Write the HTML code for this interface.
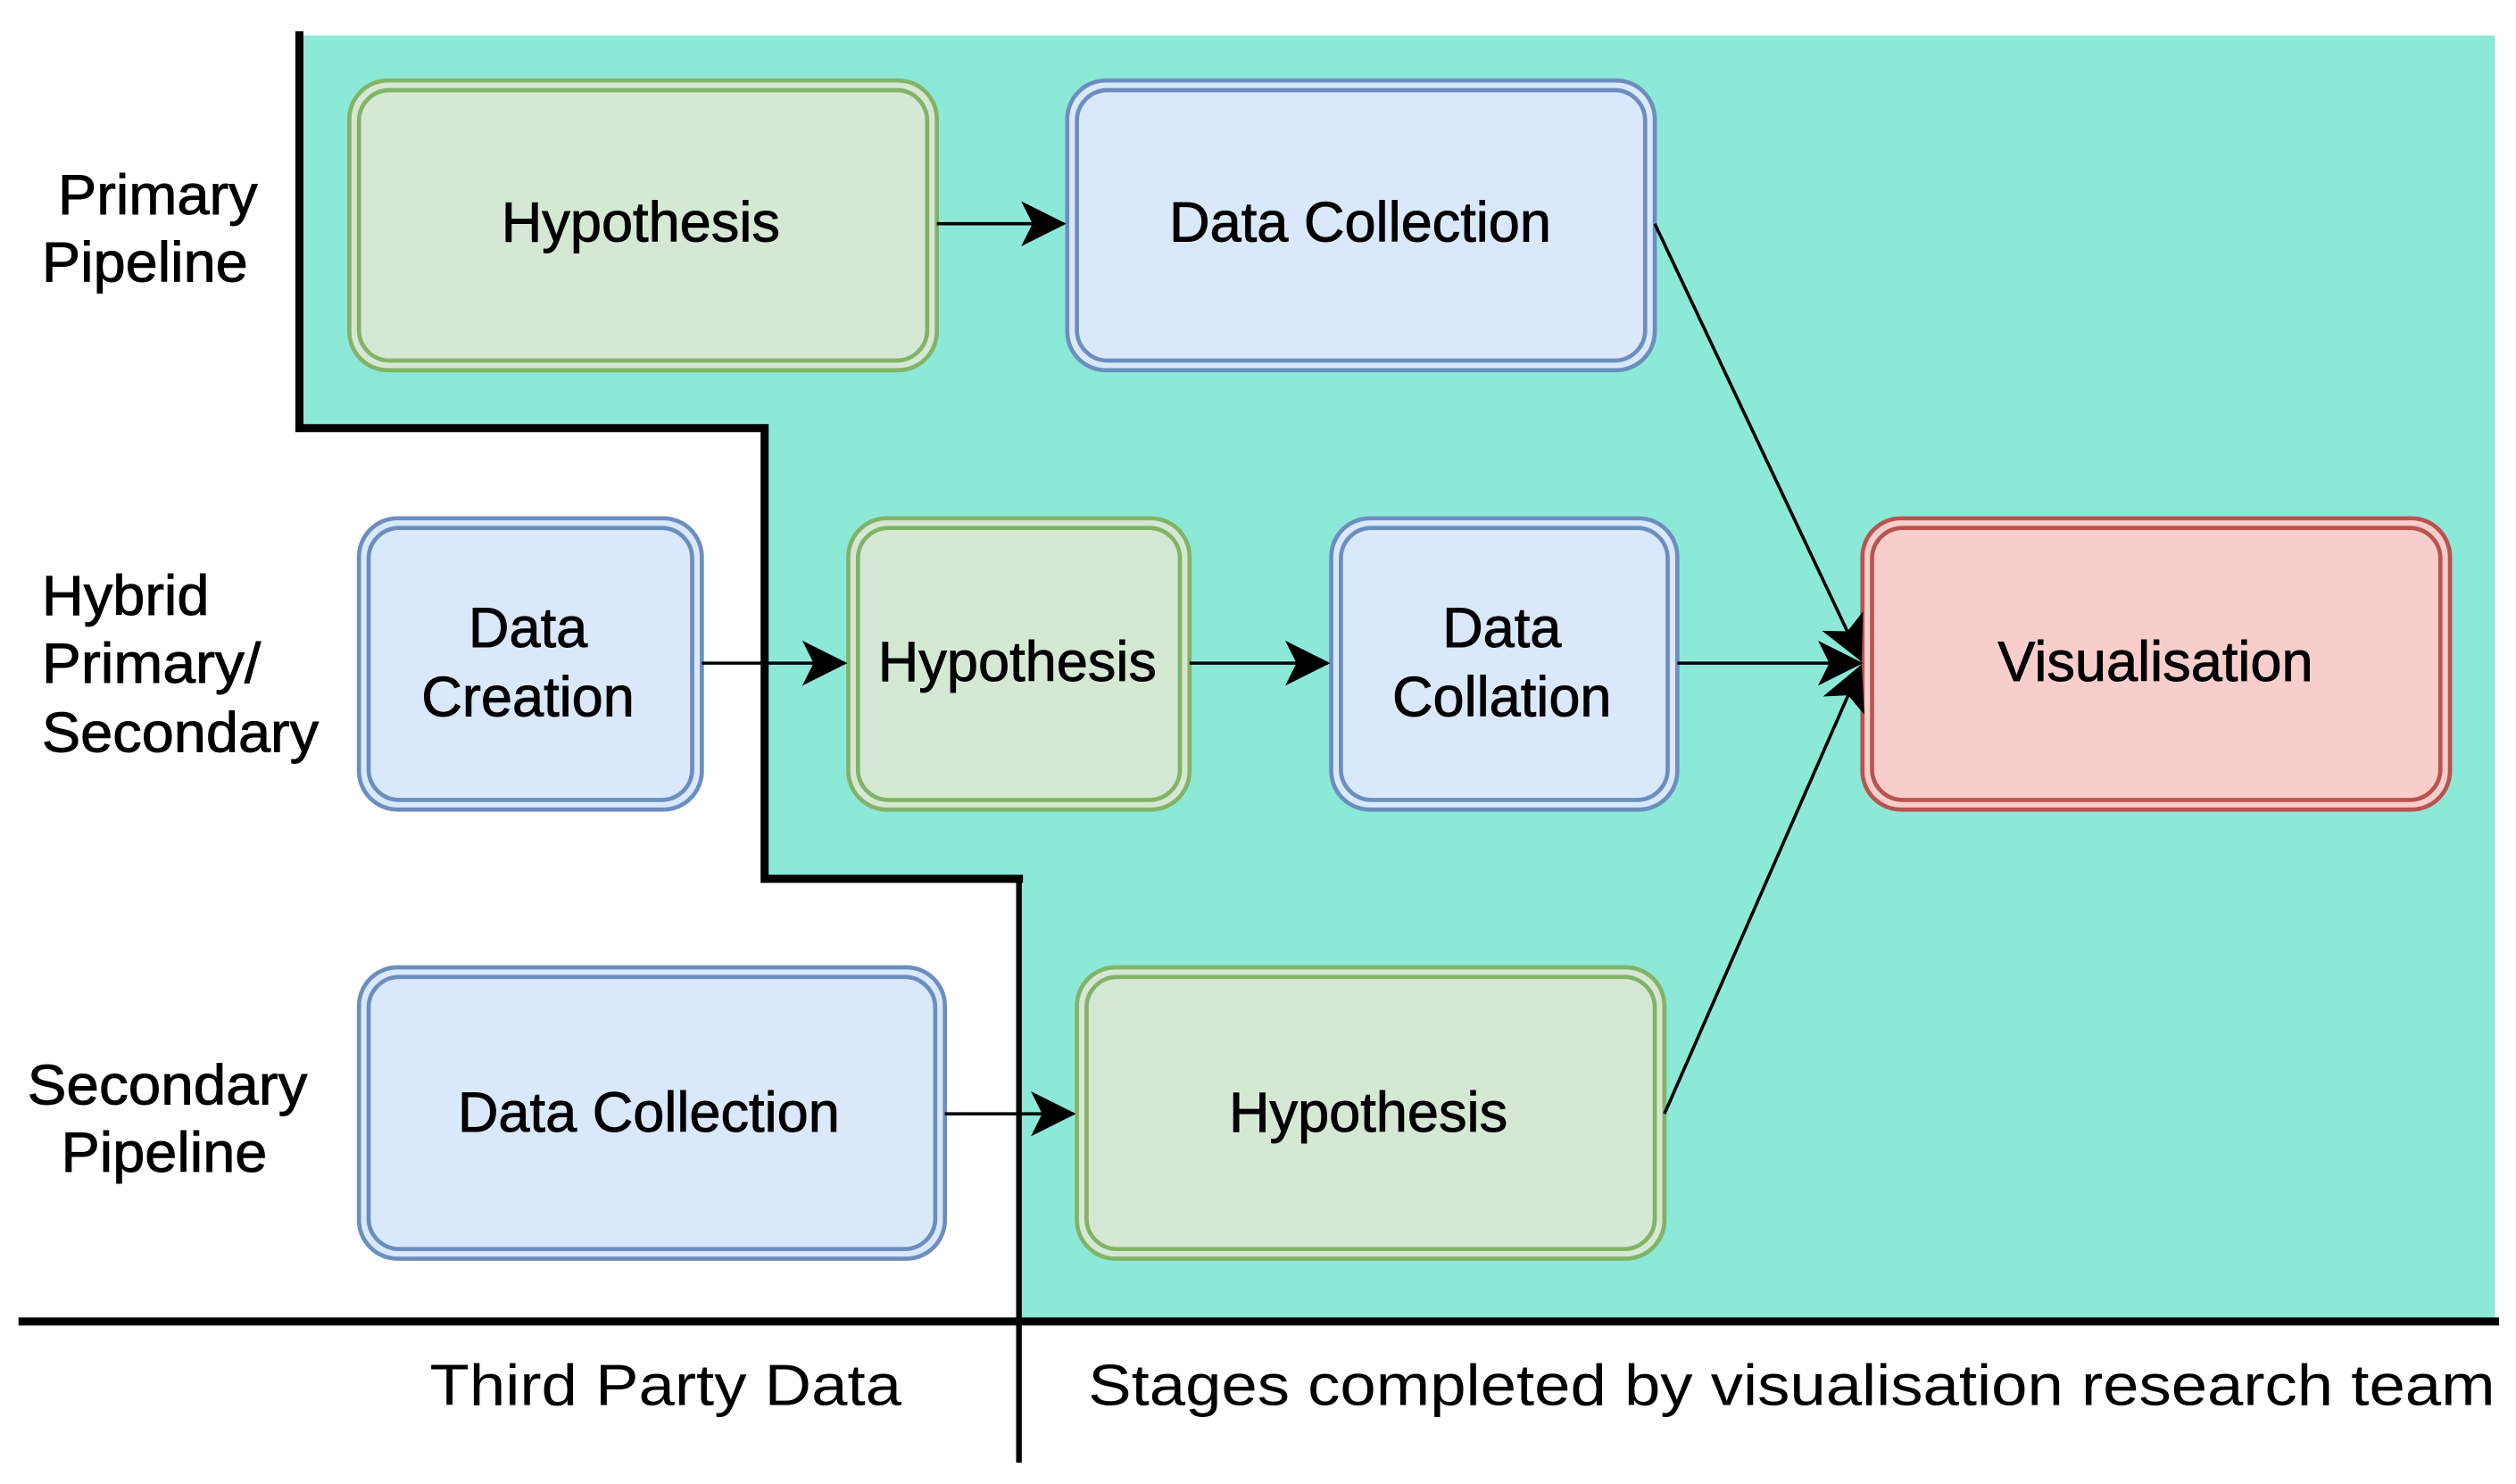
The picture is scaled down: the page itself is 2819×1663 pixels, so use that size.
<!DOCTYPE html>
<html><head><meta charset="utf-8"><style>
html,body{margin:0;padding:0;background:#fff}
svg{display:block}
text{font-family:"Liberation Sans",sans-serif;fill:#000}
</style></head><body>
<svg width="2819" height="1663" viewBox="0 0 1563 922" preserveAspectRatio="none" xmlns="http://www.w3.org/2000/svg">
<defs>
<marker id="ah2" viewBox="0 0 20 20" refX="19" refY="10" markerWidth="28" markerHeight="28" markerUnits="userSpaceOnUse" orient="auto">
<path d="M0,0 L20,10 L0,20 L5,10 Z" fill="#000"/>
</marker>
</defs>
<polygon points="186,22 1550,22 1550,820 633,820 633,546 475,546 475,266 186,266" fill="#8ce9d8"/>
<g stroke="#000" fill="none" stroke-linecap="square">
<polyline points="186,22 186,266 475,266 475,546 633,546" stroke-width="5"/>
<line x1="633" y1="546" x2="633" y2="907" stroke-width="3.5"/>
<line x1="14" y1="821" x2="1550" y2="821" stroke-width="5"/>
</g>
<g stroke-width="2.6">
<g fill="#d5e8d4" stroke="#82b366">
<rect x="217" y="50" width="365" height="180" rx="24"/>
<rect x="223" y="56" width="353" height="168" rx="19" fill="none"/>
<rect x="527" y="322" width="212" height="181" rx="24"/>
<rect x="533" y="328" width="200" height="169" rx="19" fill="none"/>
<rect x="669" y="601" width="365" height="181" rx="24"/>
<rect x="675" y="607" width="353" height="169" rx="19" fill="none"/>
</g>
<g fill="#dae8fc" stroke="#6c8ebf">
<rect x="663" y="50" width="365" height="180" rx="24"/>
<rect x="669" y="56" width="353" height="168" rx="19" fill="none"/>
<rect x="223" y="322" width="213" height="181" rx="24"/>
<rect x="229" y="328" width="201" height="169" rx="19" fill="none"/>
<rect x="827" y="322" width="215" height="181" rx="24"/>
<rect x="833" y="328" width="203" height="169" rx="19" fill="none"/>
<rect x="223" y="601" width="364" height="181" rx="24"/>
<rect x="229" y="607" width="352" height="169" rx="19" fill="none"/>
</g>
<g fill="#f8cecc" stroke="#b85450">
<rect x="1157" y="322" width="365" height="181" rx="24"/>
<rect x="1163" y="328" width="353" height="169" rx="19" fill="none"/>
</g>
</g>
<g stroke="#000" stroke-width="2" fill="none">
<line x1="582" y1="139" x2="661" y2="139" marker-end="url(#ah2)"/>
<line x1="436" y1="412" x2="525" y2="412" marker-end="url(#ah2)"/>
<line x1="739" y1="412" x2="825" y2="412" marker-end="url(#ah2)"/>
<line x1="1042" y1="412" x2="1156" y2="412" marker-end="url(#ah2)"/>
<line x1="1028" y1="139" x2="1156" y2="410" marker-end="url(#ah2)"/>
<line x1="1034" y1="692" x2="1156" y2="414" marker-end="url(#ah2)"/>
<line x1="587" y1="692" x2="667" y2="692" marker-end="url(#ah2)"/>
</g>
<g font-size="35" text-anchor="middle" stroke="#000" stroke-width="0.5">
<text x="398" y="150">Hypothesis</text>
<text x="845" y="150">Data Collection</text>
<text x="328" y="402">Data</text>
<text x="328" y="445">Creation</text>
<text x="632" y="423">Hypothesis</text>
<text x="933" y="402">Data</text>
<text x="933" y="445">Collation</text>
<text x="1339" y="423">Visualisation</text>
<text x="403" y="703">Data Collection</text>
<text x="850" y="703">Hypothesis</text>
</g>
<g font-size="35" stroke="#000" stroke-width="0.5">
<text x="36" y="133" textLength="124" lengthAdjust="spacingAndGlyphs">Primary</text>
<text x="26" y="175" textLength="128" lengthAdjust="spacingAndGlyphs">Pipeline</text>
<text x="26" y="382" textLength="104" lengthAdjust="spacingAndGlyphs">Hybrid</text>
<text x="26" y="424" textLength="136" lengthAdjust="spacingAndGlyphs">Primary/</text>
<text x="26" y="467" textLength="172" lengthAdjust="spacingAndGlyphs">Secondary</text>
<text x="17" y="686" textLength="174" lengthAdjust="spacingAndGlyphs">Secondary</text>
<text x="38" y="728" textLength="128" lengthAdjust="spacingAndGlyphs">Pipeline</text>
</g>
<g font-size="36">
<text x="267" y="873" textLength="293" lengthAdjust="spacingAndGlyphs">Third Party Data</text>
<text x="676" y="873" textLength="874" lengthAdjust="spacingAndGlyphs">Stages completed by visualisation research team</text>
</g>
</svg>
</body></html>
